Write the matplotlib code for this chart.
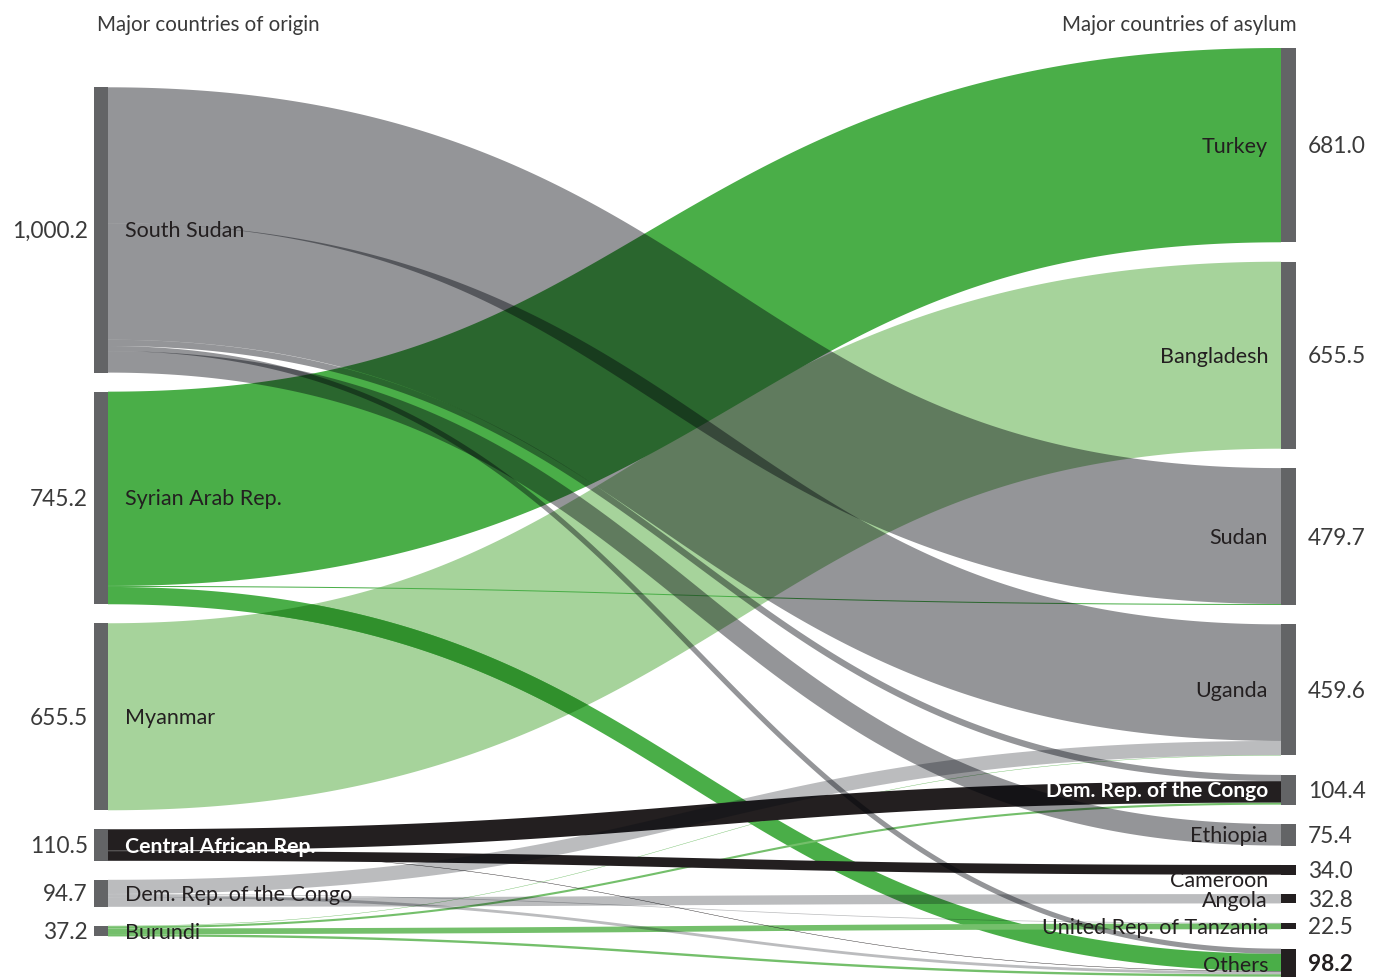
import numpy as np
import matplotlib
matplotlib.use("Agg")
import matplotlib.pyplot as plt
from matplotlib.patches import Polygon, Rectangle
from matplotlib.colors import to_rgb

plt.rcParams['font.family'] = ['Lato', 'DejaVu Sans']

# origin nodes (thousands)
origins = ["South Sudan", "Syrian Arab Rep.", "Myanmar", "Central African Rep.",
           "Dem. Rep. of the Congo", "Burundi"]
origin_values = [1000.2, 745.2, 655.5, 110.5, 94.7, 37.2]

# asylum nodes (thousands)
asylums = ["Turkey", "Bangladesh", "Sudan", "Uganda", "Dem. Rep. of the Congo",
           "Ethiopia", "Cameroon", "Angola", "United Rep. of Tanzania", "Others"]
asylum_values = [681.0, 655.5, 479.7, 459.6, 104.4, 75.4, 34.0, 32.8, 22.5, 98.2]

# flows, listed in the order they leave each origin (top to bottom)
flow_src = [0, 0, 0, 0, 0,
            1, 1, 1,
            2,
            3, 3, 3,
            4, 4, 4, 4,
            5, 5, 5, 5]
flow_dst = [2, 3, 4, 9, 5,
            0, 2, 9,
            1,
            4, 9, 6,
            3, 8, 9, 7,
            3, 4, 8, 9]
flow_val = [476.2, 408.6, 22.0, 17.8, 75.4,
            681.0, 3.5, 60.7,
            655.5,
            75.0, 1.5, 34.0,
            49.5, 2.5, 9.9, 32.8,
            1.5, 7.4, 20.0, 8.3]

# style per origin: (color, alpha, layer)
src_style = [((0.0, 0.01, 0.04), 0.42, 3),   # grey, darkens what it crosses
             ("#4aae48", 1.0, 1),
             ("#a6d39b", 1.0, 0),
             ("#231f20", 1.0, 2),
             ((0.0, 0.023, 0.053), 0.265, 3),
             ("#74bf6b", 1.0, 1)]

K = 0.2853            # px per thousand
X_L0, X_L1 = 94, 108
X_R0, X_R1 = 1281, 1296
TOP_L, GAP_L = 87.3, 19.0
TOP_R, GAP_R = 48.0, 19.4

fig = plt.figure(figsize=(13.86, 9.77), dpi=100)
ax = fig.add_axes([0, 0, 1, 1])
ax.set_xlim(0, 1386)
ax.set_ylim(977, 0)
ax.axis('off')

# node positions
left_top = []
y = TOP_L
for v in origin_values:
    left_top.append(y)
    y += v * K + GAP_L
right_top = []
y = TOP_R
for v in asylum_values:
    right_top.append(y)
    y += v * K + GAP_R

# link positions (incoming order at targets follows origin order)
src_cursor = list(left_top)
dst_cursor = list(right_top)
in_order = sorted(range(len(flow_val)), key=lambda i: (flow_dst[i], flow_src[i]))
dst_y = {}
for i in in_order:
    dst_y[i] = dst_cursor[flow_dst[i]]
    dst_cursor[flow_dst[i]] += flow_val[i] * K
links = []
for i in range(len(flow_val)):
    y0 = src_cursor[flow_src[i]]
    src_cursor[flow_src[i]] += flow_val[i] * K
    links.append((y0, dst_y[i], flow_val[i] * K))


def band_poly(y0, y1, h):
    # thick stroke along a horizontal-tangent bezier, width measured
    # perpendicular to the curve (like an svg link)
    c0, c1 = y0 + h / 2, y1 + h / 2
    xm = (X_L1 + X_R0) / 2
    t = np.linspace(0, 1, 300)
    P = np.array([[X_L1, c0], [xm, c0], [xm, c1], [X_R0, c1]])
    b = ((1 - t) ** 3)[:, None] * P[0] + (3 * (1 - t) ** 2 * t)[:, None] * P[1] \
        + (3 * (1 - t) * t ** 2)[:, None] * P[2] + (t ** 3)[:, None] * P[3]
    d = (3 * (1 - t) ** 2)[:, None] * (P[1] - P[0]) \
        + (6 * (1 - t) * t)[:, None] * (P[2] - P[1]) \
        + (3 * t ** 2)[:, None] * (P[3] - P[2])
    d = d / np.linalg.norm(d, axis=1)[:, None]
    n = np.column_stack([-d[:, 1], d[:, 0]])
    upper = b - n * h / 2
    lower = b + n * h / 2
    return np.vstack([upper, lower[::-1]])


patches = {}
for layer in range(4):
    for i, (y0, y1, h) in enumerate(links):
        col, a, lay = src_style[flow_src[i]]
        if lay != layer:
            continue
        p = Polygon(band_poly(y0, y1, h), closed=True, facecolor=col,
                    alpha=a, lw=0, zorder=1 + layer)
        ax.add_patch(p)
        patches[i] = p
        if flow_src[i] == 1 and flow_dst[i] == 9:
            # darker green where Syria->Others crosses Myanmar->Bangladesh
            c = np.array(to_rgb("#4aae48")) * np.array(to_rgb("#a6d39b"))
            q = Polygon(band_poly(y0, y1, h), closed=True, facecolor=c,
                        lw=0, zorder=2.5)
            ax.add_patch(q)
            q.set_clip_path(patches[8])

# node bars
for t, v in zip(left_top, origin_values):
    ax.add_patch(Rectangle((X_L0, t), X_L1 - X_L0, v * K,
                           facecolor="#636466", lw=0, zorder=5))
for j, (t, v) in enumerate(zip(right_top, asylum_values)):
    c = "#636466" if j < 6 else "#231f20"
    ax.add_patch(Rectangle((X_R0, t), X_R1 - X_R0, v * K,
                           facecolor=c, lw=0, zorder=5))

FS = 15.5
VS = 16.3
for name, t, v in zip(origins, left_top, origin_values):
    yc = t + v * K / 2 + 1.5
    ax.text(88, yc, f"{v:,.1f}", ha='right', va='center', fontsize=VS,
            color="#3a3a3a", zorder=6)
    if name == "Central African Rep.":
        ax.text(125, yc, name, ha='left', va='center', fontsize=FS - 0.2,
                color="white", fontweight='bold', zorder=6)
    else:
        ax.text(125, yc, name, ha='left', va='center', fontsize=FS,
                color="#231f20", zorder=6)

name_shift = {"Cameroon": 10, "Angola": 1, "Others": 2}
for name, t, v in zip(asylums, right_top, asylum_values):
    yc = t + v * K / 2 + 1.5
    bold = name == "Others"
    ax.text(1308, yc, f"{v:,.1f}", ha='left', va='center', fontsize=VS,
            color="#231f20" if bold else "#3a3a3a",
            fontweight='bold' if bold else 'normal', zorder=6)
    if name == "Dem. Rep. of the Congo":
        ax.text(1268, yc, name, ha='right', va='center', fontsize=FS - 0.5,
                color="white", fontweight='bold', zorder=6)
    else:
        ax.text(1268, yc + name_shift.get(name, 0), name, ha='right',
                va='center', fontsize=FS, color="#231f20", zorder=6)

ax.text(97, 25, "Major countries of origin", ha='left', va='center',
        fontsize=14.8, color="#3a3a3a")
ax.text(1297, 25, "Major countries of asylum", ha='right', va='center',
        fontsize=14.8, color="#3a3a3a")

fig.savefig("out.png", dpi=100)
